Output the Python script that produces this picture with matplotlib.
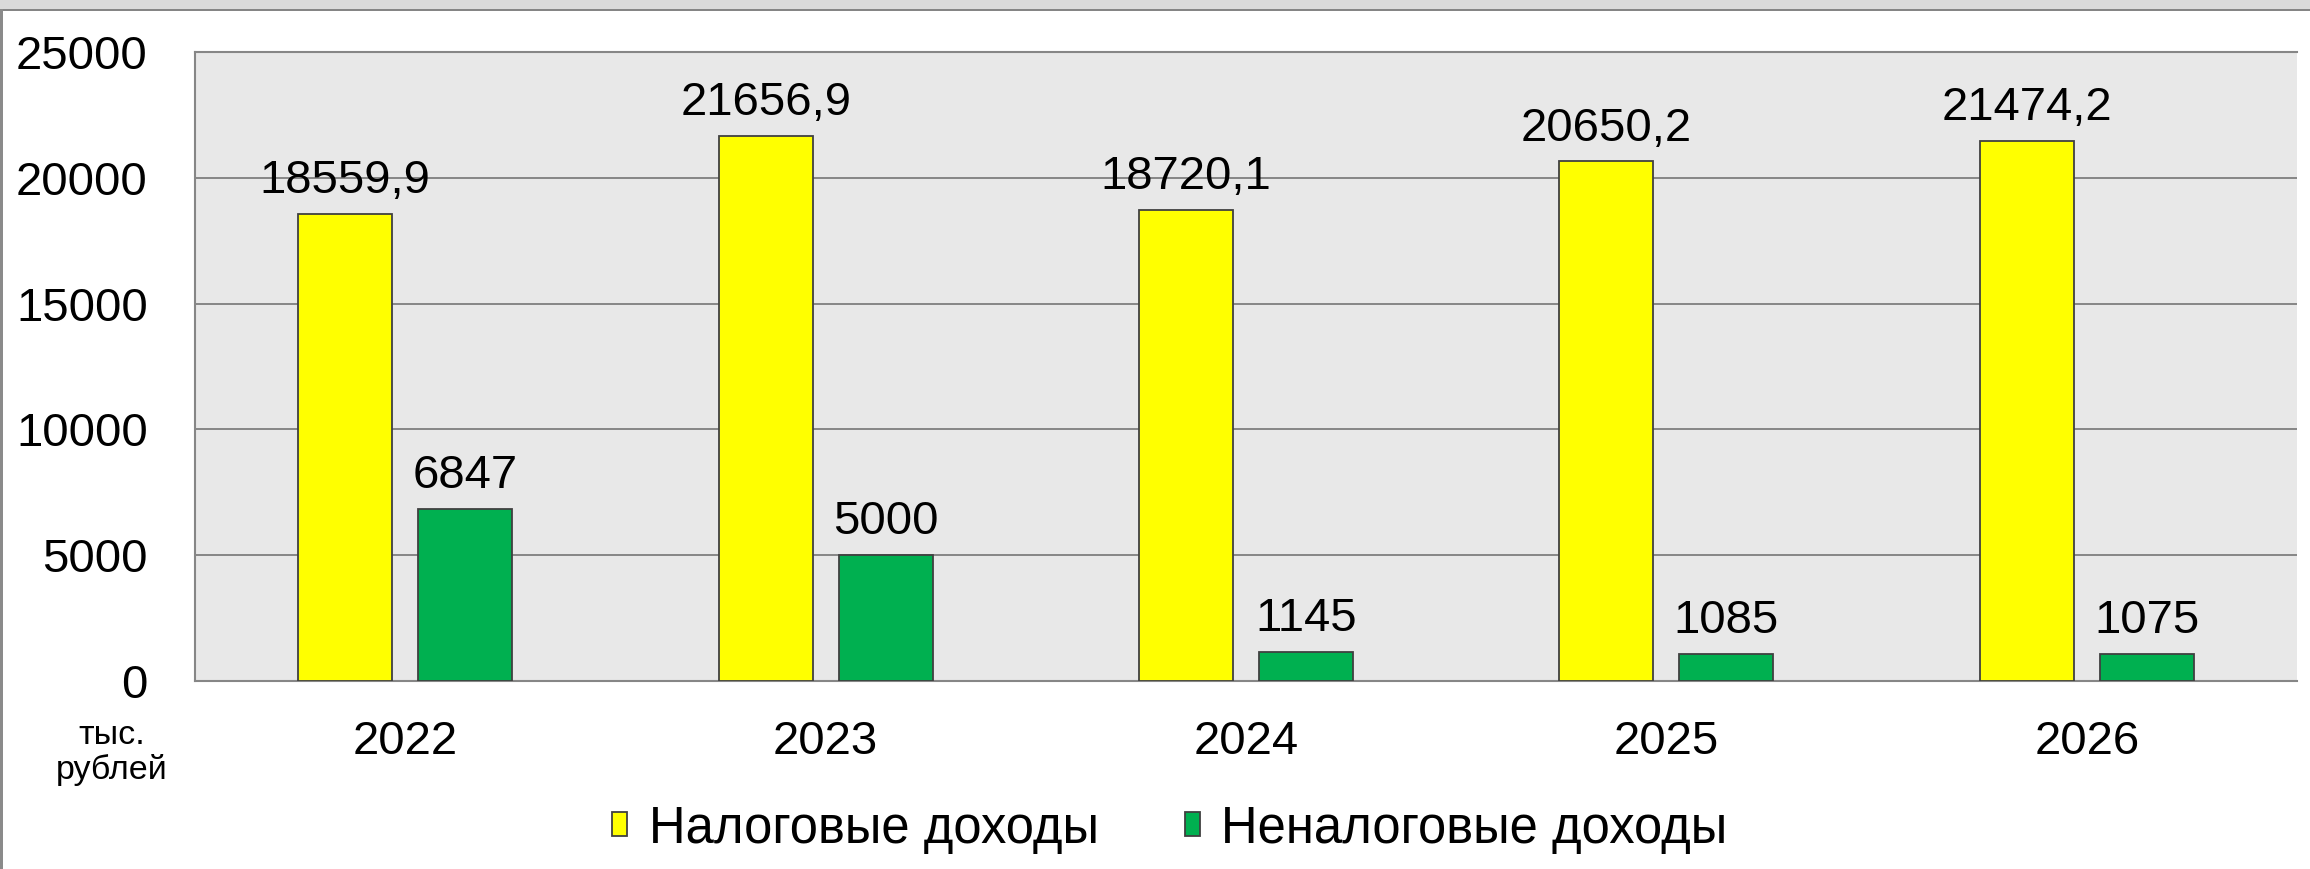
import matplotlib
matplotlib.use("Agg")
import matplotlib.pyplot as plt
from matplotlib.patches import Rectangle
import numpy as np

plt.rcParams['font.family'] = ['Liberation Sans', 'DejaVu Sans']

years = ["2022", "2023", "2024", "2025", "2026"]
tax_income = [18559.9, 21656.9, 18720.1, 20650.2, 21474.2]
nontax_income = [6847, 5000, 1145, 1085, 1075]
series_names = ["Налоговые доходы", "Неналоговые доходы"]
series_colors = ["#FFFF00", "#00B050"]
y_ticks = [0, 5000, 10000, 15000, 20000, 25000]
unit_label = "тыс.\nрублей"


def fmt(v):
    if float(v).is_integer():
        return str(int(v))
    return f"{v:.1f}".replace(".", ",")


W, H = 2310, 869
fig = plt.figure(figsize=(W / 100, H / 100), dpi=100)
fig.patch.set_facecolor("white")

# outer frame decorations
fig.add_artist(Rectangle((0, 1 - 9 / H), 1, 9 / H, transform=fig.transFigure,
                         facecolor="#dadada", edgecolor="none", zorder=0))
fig.add_artist(Rectangle((0, 1 - 11 / H), 1, 2.5 / H, transform=fig.transFigure,
                         facecolor="#858585", edgecolor="none", zorder=1))
fig.add_artist(Rectangle((0, 0), 2.5 / W, 1 - 9 / H, transform=fig.transFigure,
                         facecolor="#8a8a8a", edgecolor="none", zorder=1))

left, right, top, bottom = 195 / W, 2297 / W, 1 - 52 / H, 1 - 681 / H
ax = fig.add_axes([left, bottom, right - left, top - bottom])
ax.set_facecolor("#e8e8e8")

x = np.arange(len(years))
width = 0.2236
offset = 0.1425
b1 = ax.bar(x - offset, tax_income, width, color=series_colors[0],
            edgecolor="#404040", linewidth=1.3, label=series_names[0], zorder=3)
b2 = ax.bar(x + offset, nontax_income, width, color=series_colors[1],
            edgecolor="#404040", linewidth=1.3, label=series_names[1], zorder=3)

for bars, vals in ((b1, tax_income), (b2, nontax_income)):
    for rect, v in zip(bars, vals):
        ax.annotate(fmt(v), (rect.get_x() + rect.get_width() / 2, v),
                    xytext=(0, 15), textcoords="offset points",
                    ha="center", va="baseline", fontsize=34, color="black")

ax.set_xlim(-0.5, len(years) - 0.5)
ax.set_ylim(0, 25000)
ax.set_yticks(y_ticks)
ax.set_yticklabels([str(t) for t in y_ticks])
ax.set_xticks(x)
ax.set_xticklabels(years)
ax.tick_params(axis="y", length=0, pad=34, labelsize=34)
ax.tick_params(axis="x", length=0, pad=28, labelsize=34)
ax.yaxis.grid(True, color="#868686", linewidth=1.4, zorder=1)
ax.set_axisbelow(True)
for s in ("top", "left", "bottom"):
    ax.spines[s].set_color("#868686")
    ax.spines[s].set_linewidth(1.5)
ax.spines["right"].set_visible(False)

fig.text(112 / W, 1 - 753 / H, unit_label, ha="center", va="center",
         fontsize=24.5, linespacing=1.15, multialignment="center")

fig.legend(handles=[b1, b2], labels=series_names, loc="center",
           bbox_to_anchor=(1170 / W, 1 - 829 / H), ncol=2, frameon=False,
           fontsize=36.5, handlelength=0.3, handleheight=0.36,
           handletextpad=0.42, columnspacing=1.7, borderpad=0)

fig.savefig("out.png", dpi=100)
